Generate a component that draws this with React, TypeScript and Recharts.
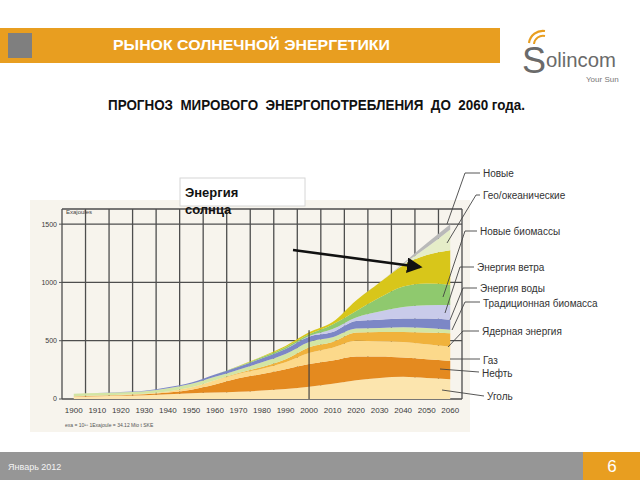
import React from 'react';
import { AreaChart, Area, XAxis, YAxis, CartesianGrid, ReferenceLine } from 'recharts';

// years and layer values in exajoules (bottom to top of the stack)
const years = [1900, 1910, 1920, 1930, 1940, 1950, 1960, 1970, 1980, 1990, 2000, 2010, 2020, 2030, 2040, 2050, 2060];
const coal = [20, 24, 28, 32, 40, 50, 55, 62, 72, 85, 105, 130, 160, 180, 190, 180, 170];
const oil = [2, 3, 5, 8, 15, 30, 70, 115, 143, 170, 195, 200, 205, 185, 165, 160, 155];
const gas = [1, 2, 3, 5, 10, 20, 35, 40, 45, 60, 95, 110, 135, 130, 135, 130, 125];
const nuclear = [0, 0, 0, 0, 0, 0, 0, 5, 15, 25, 50, 50, 70, 80, 85, 100, 115];
const tradBiomass = [22, 22, 22, 22, 28, 30, 30, 30, 40, 45, 45, 40, 35, 35, 40, 40, 30];
const hydro = [0, 0, 1, 3, 7, 12, 20, 25, 35, 45, 45, 45, 65, 70, 75, 80, 85];
const wind = [0, 0, 0, 0, 0, 0, 0, 0, 0, 0, 5, 25, 30, 70, 100, 115, 126];
const newBiomass = [0, 0, 0, 0, 0, 0, 0, 5, 10, 15, 15, 40, 55, 120, 175, 185, 174];
const solar = [0, 0, 0, 0, 0, 0, 0, 2, 5, 10, 17, 20, 90, 130, 183, 245, 297];
const geoOcean = [0, 0, 0, 0, 0, 0, 0, 0, 0, 0, 0, 0, 0, 0, 7, 65, 178];
const newer = [0, 0, 0, 0, 0, 0, 0, 0, 0, 0, 0, 0, 0, 0, 10, 37, 45];

const xTicks = [1900, 1910, 1920, 1930, 1940, 1950, 1960, 1970, 1980, 1990, 2000, 2010, 2020, 2030, 2040, 2050, 2060];
const gridYears = [1905, 1915, 1925, 1935, 1945, 1955, 1965, 1975, 1985, 1995, 2005, 2015, 2025, 2035, 2045, 2055, 2065];
const yTicks = [0, 500, 1000, 1500];

const layers = [
  { key: 'coal', values: coal, color: '#fce5ae' },
  { key: 'oil', values: oil, color: '#e48a1f' },
  { key: 'gas', values: gas, color: '#fcd98b' },
  { key: 'nuclear', values: nuclear, color: '#f0b23c' },
  { key: 'tradBiomass', values: tradBiomass, color: '#d3e5a4' },
  { key: 'hydro', values: hydro, color: '#7c87c6' },
  { key: 'wind', values: wind, color: '#c9cbea' },
  { key: 'newBiomass', values: newBiomass, color: '#8fc96e' },
  { key: 'solar', values: solar, color: '#d8c61a' },
  { key: 'geoOcean', values: geoOcean, color: '#e5edc8' },
  { key: 'newer', values: newer, color: '#b9b9b9' },
];

const data = years.map((year, i) => {
  const row: Record<string, number> = { year };
  layers.forEach((l) => { row[l.key] = l.values[i]; });
  return row;
});

// label text, label position, leader line points
const labels = [
  { text: 'Новые', x: 483, y: 177, line: '480,173 465,173 447,224' },
  { text: 'Гео/океанические', x: 483, y: 199, line: '480,195 476,195 447,243' },
  { text: 'Новые биомассы', x: 480, y: 235, line: '477,231 465,231 443,297' },
  { text: 'Энергия ветра', x: 477, y: 271, line: '474,267 460,267 445,313' },
  { text: 'Энергия воды', x: 480, y: 292, line: '477,288 463,288 450,320' },
  { text: 'Традиционная биомасса', x: 483, y: 307, line: '480,302 465,302 452,330' },
  { text: 'Ядерная энергия', x: 482, y: 335, line: '479,331 463,331 448,347' },
  { text: 'Газ', x: 483, y: 364, line: '480,359 450,359' },
  { text: 'Нефть', x: 482, y: 377, line: '479,372 440,369' },
  { text: 'Уголь', x: 487, y: 400, line: '484,396 442,390' },
];

const font = '"Liberation Sans", Arial, sans-serif';

export default function App() {
  return (
    <div style={{ position: 'absolute', left: 0, top: 0, width: 640, height: 480, background: '#fff', overflow: 'hidden', fontFamily: font }}>
      <div style={{ position: 'absolute', left: 30, top: 200, width: 440, height: 232, background: '#f7f4ed' }} />
      <div style={{ position: 'absolute', left: 30, top: 195 }}>
        <AreaChart width={445} height={240} data={data} margin={{ top: 14, right: 13, bottom: 6, left: 0 }}>
          <CartesianGrid verticalValues={gridYears} stroke="#4e4e4e" strokeWidth={1.3} fill="none" />
          <XAxis
            dataKey="year"
            type="number"
            domain={[1895, 2065]}
            ticks={xTicks}
            interval={0}
            tickLine={false}
            axisLine={false}
            tickMargin={2}
            height={30}
            tick={{ fontSize: 8, fill: '#3a3a3a', fontFamily: font }}
          />
          <YAxis
            type="number"
            domain={[0, 1630]}
            ticks={yTicks}
            width={32}
            tickSize={3}
            tickLine={{ stroke: '#555' }}
            axisLine={{ stroke: '#4e4e4e', strokeWidth: 1.3 }}
            tick={{ fontSize: 7, fill: '#3a3a3a', fontFamily: font }}
          />
          {layers.map((l) => (
            <Area
              key={l.key}
              dataKey={l.key}
              stackId="1"
              type="monotone"
              stroke="none"
              fill={l.color}
              fillOpacity={1}
              isAnimationActive={false}
            />
          ))}
          <ReferenceLine segment={[{ x: 2000, y: 0 }, { x: 2000, y: 590 }]} stroke="#444" strokeWidth={1.2} />
        </AreaChart>
      </div>
      <svg width={640} height={480} style={{ position: 'absolute', left: 0, top: 0, pointerEvents: 'none' }}>
        <defs>
          <marker id="arrowHead" markerWidth="6" markerHeight="6" refX="5" refY="3" orient="auto" markerUnits="strokeWidth">
            <path d="M0,0 L6,3 L0,6 Z" fill="#111" />
          </marker>
        </defs>
        {/* header */}
        <rect x={0} y={28} width={500} height={35} fill="#e89e20" />
        <rect x={8} y={33} width={24} height={25} fill="#7f7f7f" />
        <text x={113} y={50} fontSize={15} fontWeight="bold" fill="#fff" fontFamily={font} textLength={277} lengthAdjust="spacingAndGlyphs">
          РЫНОК СОЛНЕЧНОЙ ЭНЕРГЕТИКИ
        </text>
        {/* logo */}
        <path d="M529 43 A14 14 0 0 1 545 31" stroke="#e89e20" strokeWidth={2.2} fill="none" />
        <path d="M534 44 A9 9 0 0 1 545 36" stroke="#e89e20" strokeWidth={2} fill="none" />
        <text x={522} y={73} fontSize={36} fill="#6a6a6a" fontFamily={font}>S</text>
        <text x={546} y={67} fontSize={21} fill="#6a6a6a" fontFamily={font} textLength={70} lengthAdjust="spacingAndGlyphs">olincom</text>
        <text x={586} y={82} fontSize={8} fill="#777" fontFamily={font}>Your Sun</text>
        {/* subtitle */}
        <text x={108} y={110} fontSize={14} fontWeight="bold" fill="#111" fontFamily={font} textLength={417} lengthAdjust="spacingAndGlyphs" style={{ whiteSpace: 'pre' }}>
          {'ПРОГНОЗ  МИРОВОГО  ЭНЕРГОПОТРЕБЛЕНИЯ  ДО  2060 года.'}
        </text>
        {/* axis captions */}
        <text x={66} y={214} fontSize={6} fill="#444" fontFamily={font}>Exajoules</text>
        <text x={65} y={427} fontSize={5} fill="#555" fontFamily={font}>exa = 10¹⁸   1Exajoule = 34.12 Mio t SKE</text>
        {/* solar annotation */}
        <rect x={180} y={178} width={125} height={28} fill="#fff" stroke="#d6d6d6" strokeWidth={1} />
        <text x={185} y={197} fontSize={13} fontWeight="bold" fill="#111" fontFamily={font}>Энергия</text>
        <text x={185} y={214} fontSize={13} fontWeight="bold" fill="#111" fontFamily={font}>солнца</text>
        <line x1={293} y1={250} x2={420} y2={267} stroke="#111" strokeWidth={2.6} markerEnd="url(#arrowHead)" />
        {/* right axis labels */}
        {labels.map((l) => (
          <g key={l.text}>
            <polyline points={l.line} stroke="#444" strokeWidth={0.9} fill="none" />
            <text x={l.x} y={l.y} fontSize={10} fill="#333" fontFamily={font}>{l.text}</text>
          </g>
        ))}
        {/* footer */}
        <rect x={0} y={452} width={583} height={28} fill="#969696" />
        <rect x={583} y={452} width={57} height={28} fill="#e89e20" />
        <text x={8} y={470} fontSize={9} fill="#f4f4f4" fontFamily={font}>Январь  2012</text>
        <text x={612} y={472} fontSize={17} fill="#fff" fontFamily={font} textAnchor="middle">6</text>
      </svg>
    </div>
  );
}
